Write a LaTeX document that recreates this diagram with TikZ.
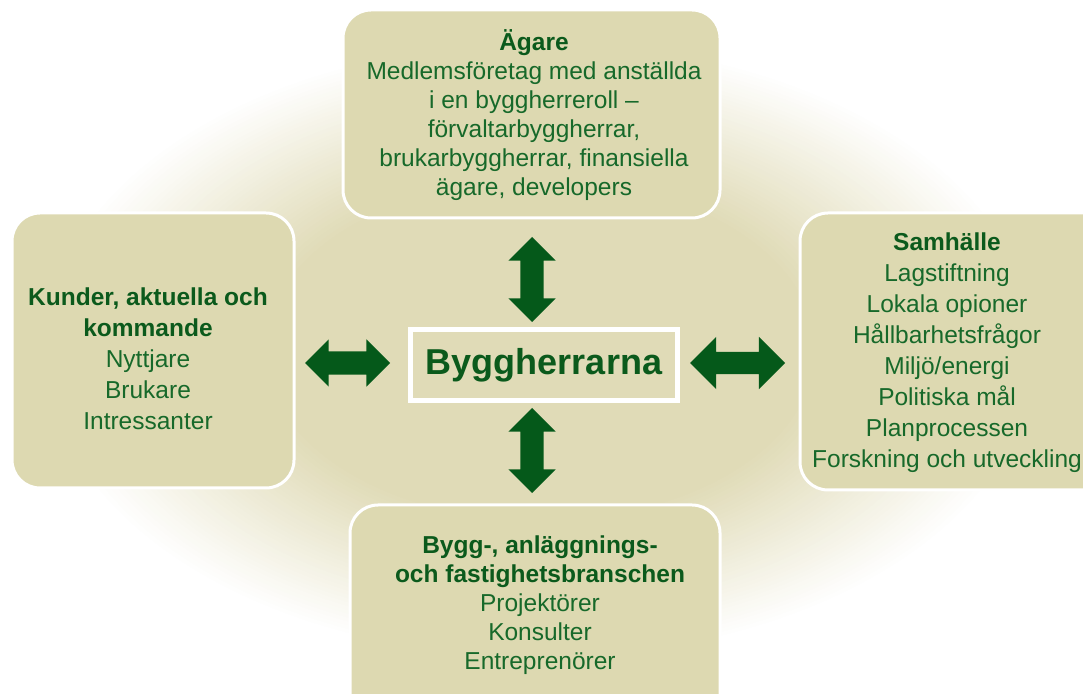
\documentclass[tikz,border=0pt]{standalone}
\usepackage{fontspec}
\setmainfont{Liberation Sans}
\usetikzlibrary{shapes.arrows}
\definecolor{bakgrund}{HTML}{E0DBB7}
\definecolor{rutafarg}{HTML}{DDD9B1}
\definecolor{gron}{HTML}{17692A}
\definecolor{morkgron}{HTML}{0B5A1C}
\definecolor{pilgron}{HTML}{05591A}
\newcommand{\rubrik}[1]{{\bfseries\color{morkgron}#1}}

\begin{document}
\begin{tikzpicture}[x=1pt, y=1pt,
		ruta/.style={draw=white, line width=3pt, fill=rutafarg, rounded corners=28pt, inner sep=0pt},
		brodtext/.style={align=center, text=gron, inner sep=0pt, font=\fontsize{24.5}{29}\selectfont},
		pil/.style={double arrow, fill=pilgron, inner xsep=0pt, inner ysep=11.5pt,
			double arrow head extend=12pt, double arrow tip angle=90}]
			\clip (0,0) rectangle (1083,693);
			\fill[white] (0,0) rectangle (1083,693);
			% gloden bakom
			\foreach \i in {0,...,40}{
				\pgfmathsetmacro{\s}{1-0.45*\i/40}
				\pgfmathsetmacro{\p}{100*\i/40}
				\fill[bakgrund!\p!white] (540,343) ellipse [x radius=\s*500pt, y radius=\s*310pt];
			}
			
			% rutorna
			\node[ruta, minimum width=377pt, minimum height=208pt] (agare) at (531.5,579) {};
			\node[ruta, minimum width=282pt, minimum height=275pt] (kunder) at (153,342.5) {};
			\node[ruta, minimum width=313pt, minimum height=277pt] (samhalle) at (956.5,341.5) {};
			\node[ruta, minimum width=370pt, minimum height=218pt] (bransch) at (535,79) {};
			
			\node[brodtext] (agaretxt) at (534,578) {\rubrik{Ägare}\\Medlemsföretag med anställda\\i en byggherreroll –\\förvaltarbyggherrar,\\brukarbyggherrar, finansiella\\ägare, developers};
			\node[brodtext, font=\fontsize{24.5}{31}\selectfont] (kundertxt) at (148,334) {\rubrik{Kunder, aktuella och}\\\rubrik{kommande}\\Nyttjare\\Brukare\\Intressanter};
			\node[brodtext, font=\fontsize{24.5}{31}\selectfont] (samhalletxt) at (947,340) {\rubrik{Samhälle}\\Lagstiftning\\Lokala opioner\\Hållbarhetsfrågor\\Miljö/energi\\Politiska mål\\Planprocessen\\Forskning och utveckling};
			\node[brodtext] (branschtxt) at (540,88) {\rubrik{Bygg-, anläggnings-}\\\rubrik{och fastighetsbranschen}\\Projektörer\\Konsulter\\Entreprenörer};
			
			% mitten
			\node[draw=white, line width=5pt, minimum width=267pt, minimum height=71pt,
				font=\fontsize{36}{40}\selectfont\bfseries, text=morkgron] (bh) at (544,328) {Byggherrarna};
			
			% pilarna
			\node[pil, rotate=90, minimum height=85pt] (pilupp) at (532,413.5) {};
			\node[pil, rotate=90, minimum height=85pt] (pilner) at (532,242.5) {};
			\node[pil, minimum height=85pt] (pilvanster) at (347.5,330) {};
			\node[pil, minimum height=95pt, inner ysep=11pt, double arrow head extend=15pt] (pilhoger) at (737.5,330) {};
		\end{tikzpicture}
\end{document}
